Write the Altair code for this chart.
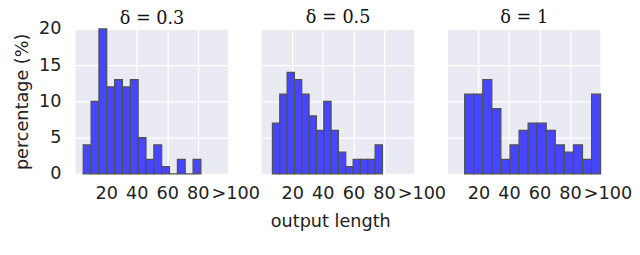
import altair as alt
import numpy as np
import pandas as pd

# ---- data ----
panel_titles = ["δ = 0.3", "δ = 0.5", "δ = 1"]
range_lo = [5, 7, 11]        # left edge of the first bin (output length)
range_hi = [82, 79, 100]     # right edge of the last bin
counts_03 = [4, 10, 20, 12, 13, 12, 13, 5, 2, 4, 1, 0, 2, 0, 2]
counts_05 = [7, 11, 14, 13, 11, 8, 6, 10, 6, 3, 1, 2, 2, 2, 4]
counts_1 = [11, 11, 13, 9, 2, 4, 6, 7, 7, 6, 4, 3, 4, 2, 11]
all_counts = [counts_03, counts_05, counts_1]
x_ticks = [20, 40, 60, 80, 100]
x_tick_labels = ["20", "40", "60", "80", ">100"]
y_ticks = [0, 5, 10, 15, 20]

label_expr = " : ".join(
    f"datum.value == {v} ? '{t}'" for v, t in zip(x_ticks[:-1], x_tick_labels[:-1])
) + f" : '{x_tick_labels[-1]}'"


def make_panel(i):
    counts = all_counts[i]
    edges = np.linspace(range_lo[i], range_hi[i], len(counts) + 1)
    df = pd.DataFrame({"start": edges[:-1], "end": edges[1:], "pct": counts})
    xaxis = dict(
        values=x_ticks, labelExpr=label_expr, labelOverlap=False, labelFlush=False,
        labelOffset={"condition": {"test": f"datum.value == {x_ticks[-1]}", "value": 7}, "value": 0},
    )
    if i == 1:
        xaxis["title"] = "output length"
        xaxis["titleX"] = 70
    else:
        xaxis["title"] = None
    yaxis = dict(values=y_ticks, labelFlush=False, labelOverlap=False)
    if i == 0:
        yaxis["title"] = "percentage (%)"
    else:
        yaxis["title"] = None
        yaxis["labels"] = False
    # the first panel's title sits above its y labels' extent, so pull it down
    title_offset = -8 if i == 0 else 2
    return (
        alt.Chart(df)
        .mark_bar(fill="#4646ff", stroke="#505050", strokeWidth=1.2)
        .encode(
            x=alt.X("start:Q", scale=alt.Scale(domain=[0, 100], nice=False, zero=False),
                    axis=alt.Axis(**xaxis)),
            x2="end:Q",
            y=alt.Y("pct:Q", scale=alt.Scale(domain=[0, 20], nice=False),
                    axis=alt.Axis(**yaxis)),
            y2=alt.datum(0),
        )
        .properties(
            width=156,
            height=148,
            title=alt.TitleParams(panel_titles[i], font="DejaVu Serif", fontSize=18,
                                  fontWeight="normal", color="#111111", offset=title_offset,
                                  frame="group"),
        )
    )


chart = (
    alt.hconcat(make_panel(0), make_panel(1), make_panel(2), spacing=34, bounds="flush")
    .properties(padding={"left": 6, "top": -1, "right": 0, "bottom": 0})
    .configure_view(fill="#EAEAF2", strokeWidth=0)
    .configure_axis(
        grid=True, gridColor="white", gridWidth=1.3, domain=False, ticks=False,
        labelFont="DejaVu Sans", labelFontSize=18, labelColor="#222222",
        titleFont="DejaVu Sans", titleFontSize=18, titleFontWeight="normal", titleColor="#222222",
    )
    .configure_axisX(labelPadding=11, titlePadding=11)
    .configure_axisY(labelPadding=15, titlePadding=7)
)

chart.save("out.html", embed_options={"renderer": "svg", "actions": False})
